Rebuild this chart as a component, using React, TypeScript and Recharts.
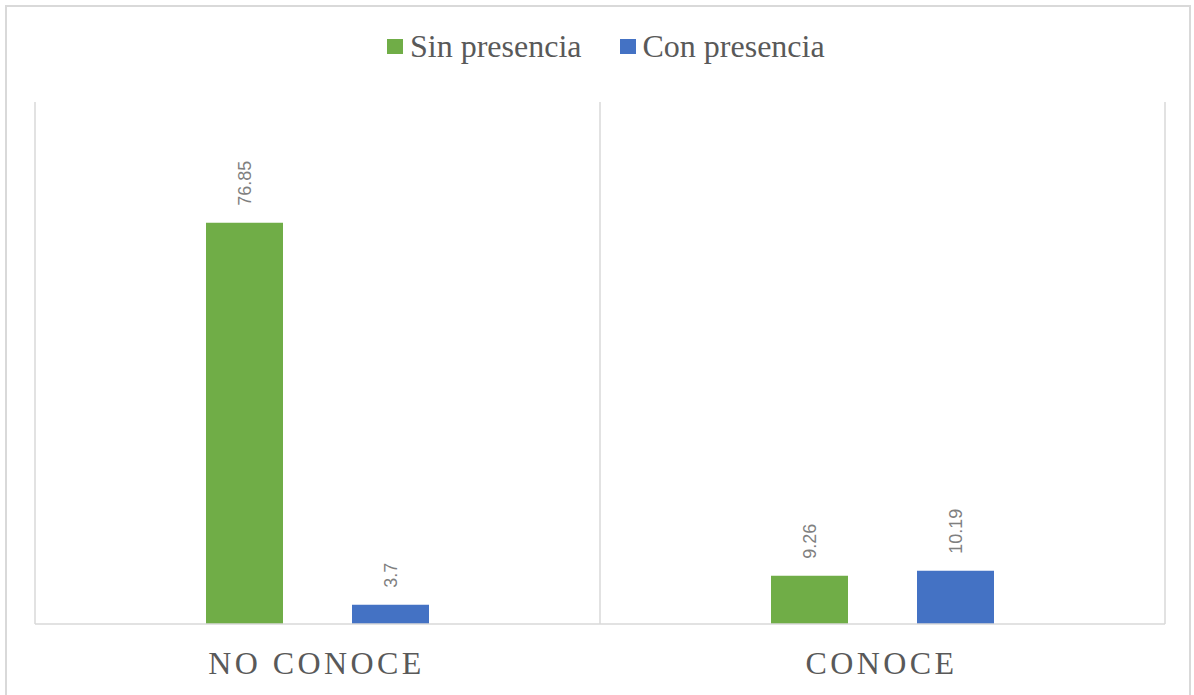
import React from 'react';
import { Bar, BarChart, CartesianGrid, LabelList, Legend, XAxis, YAxis } from 'recharts';

const categories = ['NO CONOCE', 'CONOCE'];
const sinPresencia = [76.85, 9.26];
const conPresencia = [3.7, 10.19];

const seriesNames = ['Sin presencia', 'Con presencia'];
const seriesColors = ['#70ad47', '#4472c4'];

const data = categories.map((name, i) => ({
    name,
    sin: sinPresencia[i],
    con: conPresencia[i],
}));

const serif = '"Liberation Serif", "Times New Roman", serif';
const sans = '"Liberation Sans", Arial, sans-serif';

function ValueLabel(props: any) {
    const { x, y, width, value } = props;
    const cx = x + width / 2;
    const ty = y - 17;
    return (
        <text
            x={cx}
            y={ty}
            dy="0.36em"
            transform={`rotate(-90 ${cx} ${ty})`}
            textAnchor="start"
            fill="#7f7f7f"
            fontSize={18}
            fontFamily={sans}
        >
            {value}
        </text>
    );
}

function CategoryTick(props: any) {
    const { x, y, payload } = props;
    return (
        <text
            x={x - 1}
            y={y}
            dy={42}
            textAnchor="middle"
            fill="#595959"
            fontSize={32}
            fontFamily={serif}
            letterSpacing={3.4}
        >
            {payload.value}
        </text>
    );
}

function LegendContent() {
    return (
        <div style={{ display: 'flex', alignItems: 'center', fontFamily: serif, fontSize: 32, lineHeight: '32px', color: '#595959' }}>
            {seriesNames.map((n, i) => (
                <div key={n} style={{ display: 'flex', alignItems: 'center', marginRight: i === 0 ? 38 : 0 }}>
                    <span style={{ width: 16, height: 15, background: seriesColors[i], marginRight: 7, display: 'inline-block' }} />
                    <span style={{ whiteSpace: 'nowrap', fontFamily: serif }}>{n}</span>
                </div>
            ))}
        </div>
    );
}

export default function App() {
    return (
        <div style={{ position: 'absolute', left: 0, top: 0, width: 1194, height: 695, overflow: 'hidden', background: '#fff' }}>
            <div
                style={{
                    position: 'absolute',
                    left: 5,
                    top: 5,
                    width: 1186,
                    height: 720,
                    border: '2px solid #d9d9d9',
                    boxSizing: 'border-box',
                }}
            />
            <div style={{ position: 'absolute', left: 0, top: 0 }}>
                <BarChart
                    width={1194}
                    height={695}
                    data={data}
                    margin={{ top: 102, right: 29, bottom: 0, left: 35 }}
                    barSize={77}
                    barGap={69}
                >
                    <CartesianGrid
                        horizontal={false}
                        stroke="#d9d9d9"
                        strokeWidth={1.5}
                        verticalCoordinatesGenerator={({ offset }: any) =>
                            Array.from({ length: categories.length + 1 }, (_, i) => offset.left + (i * offset.width) / categories.length)
                        }
                    />
                    <XAxis
                        dataKey="name"
                        height={71}
                        axisLine={{ stroke: '#d9d9d9', strokeWidth: 1.5 }}
                        tickLine={false}
                        tick={<CategoryTick />}
                        interval={0}
                    />
                    <YAxis hide domain={[0, 100]} />
                    <Legend
                        verticalAlign="middle"
                        align="center"
                        layout="horizontal"
                        content={<LegendContent />}
                        wrapperStyle={{ top: 30, left: 387, width: 500, height: 32 }}
                    />
                    <Bar dataKey="sin" name={seriesNames[0]} fill={seriesColors[0]} isAnimationActive={false}>
                        <LabelList dataKey="sin" content={<ValueLabel />} />
                    </Bar>
                    <Bar dataKey="con" name={seriesNames[1]} fill={seriesColors[1]} isAnimationActive={false}>
                        <LabelList dataKey="con" content={<ValueLabel />} />
                    </Bar>
                </BarChart>
            </div>
        </div>
    );
}
